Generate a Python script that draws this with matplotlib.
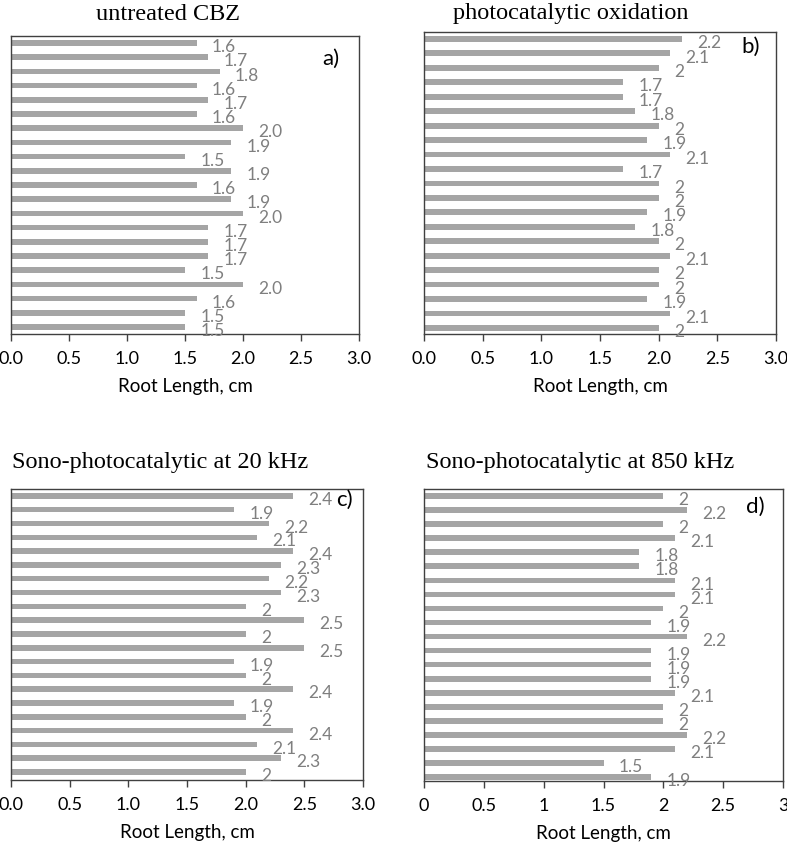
import matplotlib as mpl
mpl.use("Agg")
import matplotlib.pyplot as plt
from matplotlib.ticker import FuncFormatter

plt.rcParams['font.family'] = ['Lato', 'DejaVu Sans']

# root lengths (cm), listed top bar to bottom bar
untreated = [1.6, 1.7, 1.8, 1.6, 1.7, 1.6, 2.0, 1.9, 1.5, 1.9, 1.6,
             1.9, 2.0, 1.7, 1.7, 1.7, 1.5, 2.0, 1.6, 1.5, 1.5]
photocat = [2.2, 2.1, 2, 1.7, 1.7, 1.8, 2, 1.9, 2.1, 1.7, 2,
            2, 1.9, 1.8, 2, 2.1, 2, 2, 1.9, 2.1, 2]
sono20 = [2.4, 1.9, 2.2, 2.1, 2.4, 2.3, 2.2, 2.3, 2, 2.5, 2,
          2.5, 1.9, 2, 2.4, 1.9, 2, 2.4, 2.1, 2.3, 2]
sono850 = [2, 2.2, 2, 2.1, 1.8, 1.8, 2.1, 2.1, 2, 1.9, 2.2,
           1.9, 1.9, 1.9, 2.1, 2, 2, 2.2, 2.1, 1.5, 1.9]

titles = ["untreated CBZ", "photocatalytic oxidation",
          "Sono-photocatalytic at 20 kHz", "Sono-photocatalytic at 850 kHz"]
panel_tags = ["a)", "b)", "c)", "d)"]
x_ticks = [0, 0.5, 1.0, 1.5, 2.0, 2.5, 3.0]

W, H = 787, 842
fig = plt.figure(figsize=(W / 100, H / 100), dpi=100)

# pixel boxes: left, right, top, bottom
boxes = [(11, 359, 36, 334), (424, 776, 32, 334),
         (11, 363, 489, 780), (424, 783, 489, 781)]
pads = [(0.49, 0.49), (0.48, 0.42), (0.5, 0.58), (0.5, 0.28)]
tag_pos = [(0.945, 0.923), (0.955, 0.95), (0.972, 0.962), (0.95, 0.94)]
title_pos = [(168, 14), (571, 14), (160, 462), (580, 462)]
series = [untreated, photocat, sono20, sono850]
label_fmt = [lambda v: f"{v:.1f}", lambda v: f"{v:g}",
             lambda v: f"{v:g}", lambda v: f"{v:g}"]
tick_fmt = ["{:.1f}", "{:.1f}", "{:.1f}", "{:g}"]

for i in range(4):
    l, r, t, b = boxes[i]
    ax = fig.add_axes([l / W, 1 - b / H, (r - l) / W, (b - t) / H])
    vals = series[i]
    ys = list(range(len(vals)))
    ax.barh(ys, vals, height=0.4, color='#a5a5a5')
    for y, v in zip(ys, vals):
        ax.annotate(label_fmt[i](v), (v, y), xytext=(11, -3),
                    textcoords='offset points', ha='left', va='center',
                    fontsize=12.5, color='#7f7f7f')
    ax.set_ylim(len(vals) - 1 + pads[i][1], -pads[i][0])
    ax.set_xlim(0, 3)
    ax.set_xticks(x_ticks)
    fmt = tick_fmt[i]
    ax.xaxis.set_major_formatter(FuncFormatter(lambda v, p, fmt=fmt: fmt.format(v)))
    ax.set_yticks([])
    ax.tick_params(axis='x', direction='out', length=5, width=1,
                   color='#404040', labelsize=13, pad=7)
    for s in ax.spines.values():
        s.set_color('#404040')
        s.set_linewidth(1)
    ax.set_xlabel("Root Length, cm", fontsize=13.5, labelpad=8)
    ax.text(tag_pos[i][0], tag_pos[i][1], panel_tags[i], transform=ax.transAxes,
            ha='right', va='center', fontsize=16)
    fig.text(title_pos[i][0] / W, 1 - title_pos[i][1] / H, titles[i],
             ha='center', va='center', fontsize=17.5, family='Liberation Serif')

fig.savefig("out.png", dpi=100)
